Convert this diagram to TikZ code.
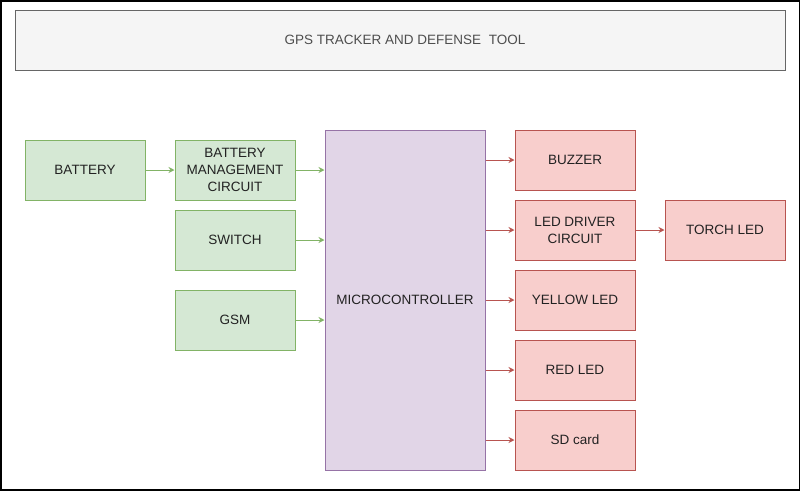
\documentclass[tikz,border=0pt]{standalone}
\usepackage{fontspec}
\setmainfont{Liberation Sans}
\usetikzlibrary{arrows.meta}
\definecolor{gfill}{HTML}{D5E8D4}\definecolor{gline}{HTML}{82B366}
\definecolor{rfill}{HTML}{F8CECC}\definecolor{rline}{HTML}{B85450}
\definecolor{pfill}{HTML}{E1D5E7}\definecolor{pline}{HTML}{9673A6}
\definecolor{tfill}{HTML}{F5F5F5}\definecolor{tline}{HTML}{666666}
\definecolor{txt}{HTML}{222222}
\begin{document}
\begin{tikzpicture}[x=1pt,y=-1pt,
  box/.style={draw, line width=1pt, minimum width=120pt, minimum height=60pt, inner sep=0pt, align=center, text=txt, font=\fontsize{13.5}{17}\selectfont},
  gbox/.style={box, fill=gfill, draw=gline},
  rbox/.style={box, fill=rfill, draw=rline},
  garr/.style={draw=gline, line width=1pt, -{Stealth[length=6pt,width=6pt]}},
  rarr/.style={draw=rline, line width=1pt, -{Stealth[length=6pt,width=6pt]}}]
\useasboundingbox (0,0) rectangle (801,491);
\draw[line width=1.5pt] (0.75,0.75) rectangle (799.5,490);
\node[box, fill=tfill, draw=tline, minimum width=770pt, minimum height=60pt, text=txt!80] (title) at (400,40) {\hspace*{10pt}GPS TRACKER AND DEFENSE\ \ TOOL};
\node[gbox] (bat) at (85,170) {BATTERY};
\node[gbox] (bmc) at (235,170) {BATTERY\\MANAGEMENT\\CIRCUIT};
\node[gbox] (sw) at (235,240) {SWITCH};
\node[gbox] (gsm) at (235,320) {GSM};
\node[box, fill=pfill, draw=pline, minimum width=160pt, minimum height=340pt] (mcu) at (405,300) {MICROCONTROLLER};
\node[rbox] (buz) at (575,160) {BUZZER};
\node[rbox] (drv) at (575,230) {LED DRIVER\\CIRCUIT};
\node[rbox] (torch) at (725,230) {TORCH LED};
\node[rbox] (yel) at (575,300) {YELLOW LED};
\node[rbox] (red) at (575,370) {RED LED};
\node[rbox] (sd) at (575,440) {SD card};
\draw[garr] (bat) -- (bmc);
\draw[garr] (bmc) -- (bmc -| mcu.west);
\draw[garr] (sw) -- (sw -| mcu.west);
\draw[garr] (gsm) -- (gsm -| mcu.west);
\draw[rarr] (buz -| mcu.east) -- (buz);
\draw[rarr] (drv -| mcu.east) -- (drv);
\draw[rarr] (yel -| mcu.east) -- (yel);
\draw[rarr] (red -| mcu.east) -- (red);
\draw[rarr] (sd -| mcu.east) -- (sd);
\draw[rarr] (drv) -- (torch);
\end{tikzpicture}
\end{document}
